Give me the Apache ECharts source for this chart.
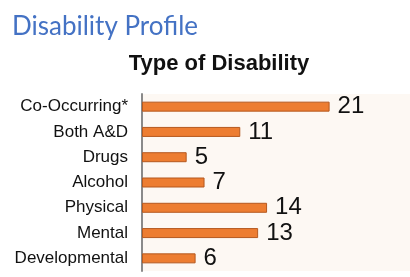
<!DOCTYPE html>
<html>
<head>
<meta charset="utf-8">
<script src="https://cdn.jsdelivr.net/npm/echarts@6/dist/echarts.min.js"></script>
<style>
  html, body { margin: 0; padding: 0; background: #fff; }
  #chart { width: 410px; height: 277px; }
</style>
</head>
<body>
<div id="chart"></div>
<script>
// categories listed bottom -> top (category axis draws first at the bottom)
const categories = ['Developmental', 'Mental', 'Physical', 'Alcohol', 'Drugs', 'Both A&D', 'Co-Occurring*'];
const counts = [6, 13, 14, 7, 5, 11, 21];

const pageTitle = 'Disability Profile';
const chartTitle = 'Type of Disability';

const chart = echarts.init(document.getElementById('chart'));

chart.setOption({
    animation: false,
    backgroundColor: '#ffffff',
    title: [{
        text: pageTitle,
        left: 7,
        top: 9,
        textStyle: { color: '#4472C4', fontFamily: 'Lato', fontWeight: 'normal', fontSize: 26 }
    }, {
        text: chartTitle,
        left: 214,
        textAlign: 'center',
        top: 48,
        textStyle: { color: '#111', fontFamily: 'Liberation Sans', fontWeight: 'bold', fontSize: 22 }
    }],
    grid: {
        left: 142, top: 94, width: 270, height: 177,
        show: true, backgroundColor: '#FDF8F3', borderWidth: 0
    },
    xAxis: {
        type: 'value', min: 0, max: 30,
        show: false
    },
    yAxis: {
        type: 'category',
        data: categories,
        axisLine: { lineStyle: { color: '#8a8a8a', width: 2 } },
        axisTick: { show: false },
        axisLabel: { color: '#111', fontFamily: 'Liberation Sans', fontSize: 17, margin: 14 }
    },
    series: [{
        type: 'bar',
        data: counts,
        barWidth: 10,
        itemStyle: { color: '#ED7D31', borderColor: '#B5591F', borderWidth: 1 },
        label: {
            show: true, position: 'right', distance: 8,
            color: '#111', fontFamily: 'Liberation Sans', fontSize: 24
        }
    }]
});
</script>
</body>
</html>
